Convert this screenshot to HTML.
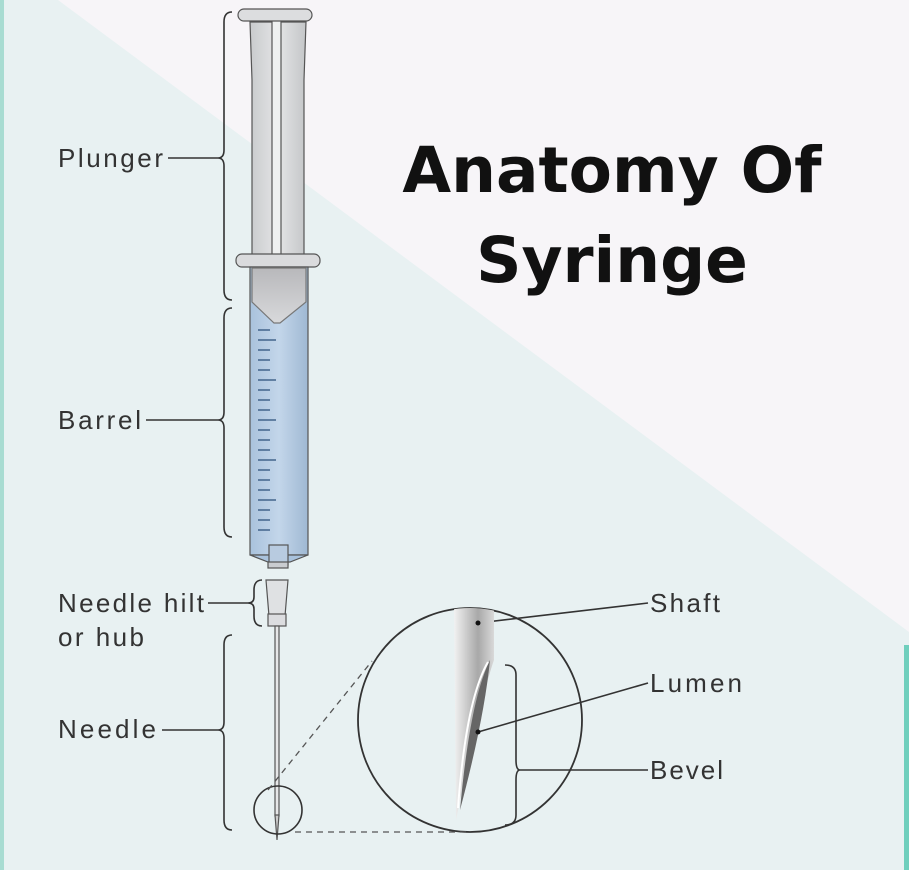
<!DOCTYPE html>
<html><head><style>
html,body{margin:0;padding:0}
body{width:909px;height:870px;overflow:hidden;font-family:"Liberation Sans",sans-serif}
</style></head><body>
<svg width="909" height="870" viewBox="0 0 909 870" xmlns="http://www.w3.org/2000/svg">
<defs>
<linearGradient id="pl" x1="0" x2="1"><stop offset="0" stop-color="#c9cbcd"/><stop offset="0.5" stop-color="#e4e5e6"/><stop offset="1" stop-color="#c4c6c8"/></linearGradient>
<linearGradient id="bl" x1="0" x2="1"><stop offset="0" stop-color="#a9c2dc"/><stop offset="0.5" stop-color="#c3d6ea"/><stop offset="1" stop-color="#9fb8d3"/></linearGradient>
<linearGradient id="sh" x1="0" x2="0" y1="0" y2="1"><stop offset="0" stop-color="#b8b8bb"/><stop offset="1" stop-color="#d8d9db"/></linearGradient>
<linearGradient id="ng" x1="0" x2="1"><stop offset="0" stop-color="#f2f2f2"/><stop offset="0.6" stop-color="#a8a8a8"/><stop offset="1" stop-color="#d9d9d9"/></linearGradient>
<clipPath id="cc"><circle cx="470" cy="720" r="112"/></clipPath>
</defs>
<rect width="909" height="870" fill="#e8f1f2"/>
<polygon points="58,0 909,0 909,632" fill="#f7f5f8"/>
<rect x="0" y="0" width="4" height="870" fill="#a8dcd2"/>
<rect x="904" y="645" width="5" height="225" fill="#6fcfbd"/>
<text x="612" y="192" text-anchor="middle" font-family="'DejaVu Sans',sans-serif" font-weight="bold" font-size="63" fill="#111">Anatomy Of</text>
<text x="612" y="282" text-anchor="middle" font-family="'DejaVu Sans',sans-serif" font-weight="bold" font-size="63" fill="#111">Syringe</text>
<g stroke="#555" stroke-width="1.2">
<path d="M250,22 L306,22 L304,80 L304,258 L252,258 L252,80 Z" fill="url(#pl)"/>
<rect x="272" y="16" width="9" height="244" fill="#eef0f0"/>
<rect x="238" y="9" width="74" height="12" rx="6" fill="#dcdddf"/>
<rect x="236" y="254" width="84" height="13" rx="6" fill="#dadbdd"/>
<rect x="250" y="267" width="58" height="288" fill="url(#bl)"/>
<path d="M252,268 L306,268 L306,302 L280,323 L274,323 L252,302 Z" fill="url(#sh)" stroke="#777"/>
<path d="M250,555 L308,555 L290,562 L268,562 Z" fill="#a9c2dc"/>
<rect x="269" y="545" width="19" height="20" fill="#b8cbe0"/>
<rect x="268" y="562" width="20" height="6" fill="#c9ccd0"/>
<path d="M266,580 L288,580 L285,616 L269,616 Z" fill="#dfe1e3"/>
<rect x="268" y="614" width="18" height="12" fill="#dcdde0"/>
<rect x="275" y="626" width="4" height="190" fill="#e6e7e8"/>
<path d="M275,815 L279,815 L277,840 Z" fill="#ccc"/>
</g>
<g stroke="#2b4f7a" stroke-width="1.3">
<path d="M258,330h12M258,340h18M258,350h12M258,360h12M258,370h12M258,380h18M258,390h12M258,400h12M258,410h12M258,420h18M258,430h12M258,440h12M258,450h12M258,460h18M258,470h12M258,480h12M258,490h12M258,500h18M258,510h12M258,520h12M258,530h12"/>
</g>
<g fill="none" stroke="#333" stroke-width="1.6">
<path d="M232,12 Q224,12 224,22 L224,150 Q224,158 218,158 Q224,158 224,166 L224,290 Q224,300 232,300"/>
<path d="M232,308 Q224,308 224,318 L224,412 Q224,420 218,420 Q224,420 224,428 L224,527 Q224,537 232,537"/>
<path d="M262,580 Q254,580 254,590 L254,597 Q254,603 248,603 Q254,603 254,609 L254,616 Q254,626 262,626"/>
<path d="M232,635 Q224,635 224,645 L224,722 Q224,730 218,730 Q224,730 224,738 L224,820 Q224,830 232,830"/>
<path d="M168,158H218M146,420H218M208,603H248M162,730H218"/>
<circle cx="278" cy="810" r="24"/>
<circle cx="470" cy="720" r="112" stroke-width="1.8"/>
<path d="M505,665 Q516,665 516,675 L516,760 Q516,770 520,770 Q516,770 516,780 L516,815 Q516,825 505,825"/>
<path d="M520,770H648M478,623L648,603M478,732L648,683"/>
</g>
<g fill="none" stroke="#555" stroke-width="1.3" stroke-dasharray="6,5">
<path d="M268,790L372,661M295,832L468,832"/>
</g>
<g clip-path="url(#cc)">
<path d="M454,600 L494,600 L494,660 Q480,700 456,820 Z" fill="url(#ng)"/>
<path d="M490,660 Q470,700 460,810 Q484,720 490,660 Z" fill="#666"/>
<path d="M488,662 Q466,700 458,808" stroke="#fff" stroke-width="2" fill="none"/>
</g>
<circle cx="478" cy="623" r="2.5" fill="#111"/>
<circle cx="478" cy="732" r="2.5" fill="#111"/>
<g font-size="26" fill="#333">
<text x="58" y="167" textLength="105">Plunger</text>
<text x="58" y="429" textLength="83">Barrel</text>
<text x="58" y="612" textLength="146">Needle hilt</text>
<text x="58" y="646" textLength="86">or hub</text>
<text x="58" y="738" textLength="98">Needle</text>
<text x="650" y="612" textLength="70">Shaft</text>
<text x="650" y="692" textLength="92">Lumen</text>
<text x="650" y="779" textLength="73">Bevel</text>
</g>
</svg>
</body></html>
